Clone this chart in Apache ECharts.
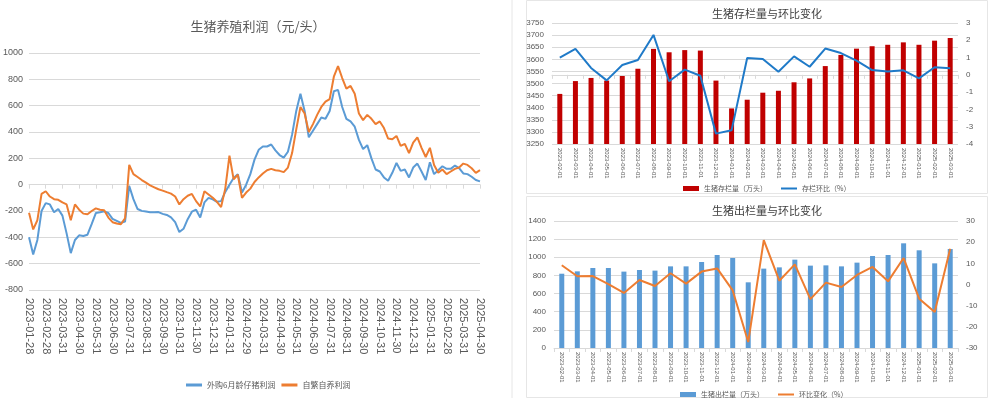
<!DOCTYPE html>
<html>
<head>
<meta charset="utf-8">
<script src="https://cdn.jsdelivr.net/npm/echarts@6/dist/echarts.min.js"></script>
<style>
  html, body { margin: 0; padding: 0; background: #fff; }
  #main { width: 990px; height: 398px; }
</style>
</head>
<body>
<div id="main"></div>
<script>
// 左图：生猪养殖利润（元/头），每月4个采样点
var monthEnds = ['2023-01-28','2023-02-28','2023-03-31','2023-04-30','2023-05-31','2023-06-30','2023-07-31',
  '2023-08-31','2023-09-30','2023-10-31','2023-11-30','2023-12-31','2024-01-31','2024-02-29','2024-03-31',
  '2024-04-30','2024-05-31','2024-06-30','2024-07-31','2024-08-31','2024-09-30','2024-10-31','2024-11-30',
  '2024-12-31','2025-01-31','2025-02-28','2025-03-31','2025-04-30'];
var perMonth = 4;

var profitPiglet = [
  -400,-530,-420,-200,-140,-150,-210,-185,-235,-370,-520,-420,
  -385,-390,-380,-300,-216,-210,-203,-215,-260,-275,-290,-280,
  -10,-110,-185,-199,-204,-210,-210,-208,-222,-230,-248,-285,
  -360,-335,-262,-205,-190,-250,-135,-100,-112,-130,-125,-55,
  0,50,80,-60,0,80,190,265,290,290,305,260,
  225,205,250,380,560,690,560,360,410,460,510,500,
  560,710,720,590,500,480,440,340,270,300,200,115,
  100,55,30,90,165,105,115,55,130,160,100,35,
  170,80,110,140,120,120,145,125,85,80,60,35,25
];
var profitSelf = [
  -213,-340,-270,-70,-50,-90,-110,-115,-135,-150,-270,-150,
  -190,-220,-225,-200,-180,-191,-195,-250,-285,-295,-300,-255,
  150,80,58,35,15,-5,-20,-35,-45,-57,-68,-90,
  -150,-110,-84,-70,-125,-165,-50,-75,-100,-130,-170,-30,
  220,40,75,-100,-60,-30,20,55,85,110,120,110,
  105,95,130,240,420,590,540,400,460,530,590,630,
  650,820,900,810,730,750,690,540,490,530,500,460,
  480,430,350,345,370,295,310,240,320,360,280,210,
  280,150,90,115,80,100,120,130,160,150,125,90,110
];

// 右图月份
var months = ['2023-02-01','2023-03-01','2023-04-01','2023-05-01','2023-06-01','2023-07-01','2023-08-01',
  '2023-09-01','2023-10-01','2023-11-01','2023-12-01','2024-01-01','2024-02-01','2024-03-01','2024-04-01',
  '2024-05-01','2024-06-01','2024-07-01','2024-08-01','2024-09-01','2024-10-01','2024-11-01','2024-12-01',
  '2025-01-01','2025-02-01','2025-03-01'];
var stock = [3457,3510,3523,3512,3531,3561,3643,3629,3638,3636,3512,3397,3433,3462,3470,3505,3521,3572,
  3618,3644,3654,3660,3670,3660,3677,3688];
var stockMoM = [1.0,1.5,0.4,-0.32,0.57,0.86,2.31,-0.37,0.3,-0.05,-3.4,-3.21,0.98,0.92,0.18,1.07,0.47,1.52,
  1.26,0.82,0.28,0.2,0.26,-0.2,0.44,0.38];
var slaughter = [819,845,882,882,842,860,853,900,900,948,1025,992,724,875,889,974,908,911,900,941,1014,
  1025,1154,1077,933,1091];
var slaughterMoM = [9.1,3.9,4.0,0.2,-4.0,2.1,-0.7,5.3,0.4,6.1,7.6,-2.8,-27.2,21.0,1.8,9.5,-6.9,0.9,-1.2,
  4.5,8.3,1.5,12.5,-6.7,-13.0,16.9];

var cats = [];
for (var m = 0; m < monthEnds.length - 1; m++) {
  for (var k = 0; k < perMonth; k++) {
    cats.push(k === 0 ? monthEnds[m] : monthEnds[m] + '#' + k);
  }
}
cats.push(monthEnds[monthEnds.length - 1]);
var onMonth = function (idx) { return idx % perMonth === 0; };
var plain = function (v) { return String(v); };

var txt = '#595959';
var gridLine = { lineStyle: { color: '#d9d9d9', width: 1 } };
var smallFont = 'Liberation Sans, Arial, sans-serif';
var cjk = 'Noto Sans CJK SC, sans-serif';
var thickLine = 'path://M0,0H16V3H0Z';
var thinLine = 'path://M0,0H16V2H0Z';

var chart = echarts.init(document.getElementById('main'));
chart.setOption({
  animation: false,
  backgroundColor: '#fff',
  graphic: [
    { type: 'line', shape: { x1: 512, y1: 0, x2: 512, y2: 398 }, style: { stroke: '#e6e6e6', lineWidth: 1 } },
    { type: 'rect', shape: { x: 526.5, y: 0.5, width: 461, height: 193 }, style: { fill: null, stroke: '#e6e6e6', lineWidth: 1 } },
    { type: 'rect', shape: { x: 526.5, y: 196.5, width: 461, height: 201 }, style: { fill: null, stroke: '#e6e6e6', lineWidth: 1 } }
  ],
  title: [
    { text: '生猪养殖利润（元/头）', left: 253, top: 15, textAlign: 'center',
      textStyle: { fontSize: 13, fontWeight: 'normal', color: txt, fontFamily: cjk } },
    { text: '生猪存栏量与环比变化', left: 762, top: 3, textAlign: 'center',
      textStyle: { fontSize: 11, fontWeight: 'normal', color: '#404040', fontFamily: cjk } },
    { text: '生猪出栏量与环比变化', left: 762, top: 200, textAlign: 'center',
      textStyle: { fontSize: 11, fontWeight: 'normal', color: '#404040', fontFamily: cjk } }
  ],
  legend: [
    { left: 181, top: 376, itemWidth: 16, itemHeight: 8, itemGap: 6,
      data: [{ name: '外购6月龄仔猪利润', icon: thickLine }, { name: '自繁自养利润', icon: thickLine }],
      textStyle: { fontSize: 8, color: txt, fontFamily: cjk } },
    { left: 678, top: 180, itemWidth: 16, itemHeight: 5, itemGap: 14,
      data: [{ name: '生猪存栏量（万头）', icon: 'rect' }, { name: '存栏环比（%）', icon: thinLine }],
      textStyle: { fontSize: 7, color: txt, fontFamily: cjk } },
    { left: 675, top: 386, itemWidth: 16, itemHeight: 5, itemGap: 14,
      data: [{ name: '生猪出栏量（万头）', icon: 'rect' }, { name: '环比变化（%）', icon: thinLine }],
      textStyle: { fontSize: 7, color: txt, fontFamily: cjk } }
  ],
  grid: [
    { left: 25, top: 53, width: 455, height: 237 },
    { left: 552, top: 23, width: 406, height: 121 },
    { left: 554, top: 221, width: 404, height: 127 }
  ],
  xAxis: [
    { gridIndex: 0, type: 'category', data: cats, boundaryGap: false,
      axisLine: { show: false, onZero: false }, axisTick: { show: false },
      axisLabel: { interval: onMonth, rotate: -90, fontSize: 11, color: txt, fontFamily: smallFont, margin: 8 } },
    { gridIndex: 0, type: 'category', data: cats, boundaryGap: false, position: 'bottom',
      axisLine: { show: true, onZero: true, lineStyle: { color: '#d9d9d9' } },
      axisTick: { show: true, interval: onMonth, length: 4, lineStyle: { color: '#d9d9d9' } },
      axisLabel: { show: false } },
    { gridIndex: 1, type: 'category', data: months,
      axisLine: { lineStyle: { color: '#d9d9d9' } },
      axisTick: { show: true, alignWithLabel: false, length: 4, lineStyle: { color: '#d9d9d9' } },
      axisLabel: { interval: 0, rotate: -90, fontSize: 6, color: txt, fontFamily: smallFont, margin: 4 } },
    { gridIndex: 2, type: 'category', data: months,
      axisLine: { lineStyle: { color: '#d9d9d9' } },
      axisTick: { show: true, alignWithLabel: false, length: 4, lineStyle: { color: '#d9d9d9' } },
      axisLabel: { interval: 0, rotate: -90, fontSize: 6, color: txt, fontFamily: smallFont, margin: 4 } }
  ],
  yAxis: [
    { gridIndex: 0, type: 'value', min: -800, max: 1000, interval: 200,
      axisLine: { show: false }, axisTick: { show: false }, splitLine: gridLine,
      axisLabel: { formatter: plain, fontSize: 9, color: txt, fontFamily: 'Liberation Sans Narrow, Liberation Sans, sans-serif', margin: 6 } },
    { gridIndex: 1, type: 'value', min: 3250, max: 3750, interval: 50,
      axisLine: { show: false }, axisTick: { show: false }, splitLine: gridLine,
      axisLabel: { formatter: plain, fontSize: 8, color: txt, fontFamily: smallFont, margin: 8 } },
    { gridIndex: 1, type: 'value', position: 'right', min: -4, max: 3, interval: 1,
      axisLine: { show: false }, axisTick: { show: false }, splitLine: { show: false },
      axisLabel: { formatter: plain, fontSize: 8, color: txt, fontFamily: smallFont, margin: 8 } },
    { gridIndex: 2, type: 'value', min: 0, max: 1400, interval: 200,
      axisLine: { show: false }, axisTick: { show: false }, splitLine: gridLine,
      axisLabel: { formatter: plain, fontSize: 8, color: txt, fontFamily: smallFont, margin: 8 } },
    { gridIndex: 2, type: 'value', position: 'right', min: -30, max: 30, interval: 10,
      axisLine: { show: false }, axisTick: { show: false }, splitLine: { show: false },
      axisLabel: { formatter: plain, fontSize: 8, color: txt, fontFamily: smallFont, margin: 8 } }
  ],
  series: [
    { name: '外购6月龄仔猪利润', type: 'line', xAxisIndex: 0, yAxisIndex: 0, data: profitPiglet,
      symbol: 'none', lineStyle: { width: 2, color: '#5B9BD5' }, itemStyle: { color: '#5B9BD5' } },
    { name: '自繁自养利润', type: 'line', xAxisIndex: 0, yAxisIndex: 0, data: profitSelf,
      symbol: 'none', lineStyle: { width: 2, color: '#ED7D31' }, itemStyle: { color: '#ED7D31' } },
    { name: '生猪存栏量（万头）', type: 'bar', xAxisIndex: 2, yAxisIndex: 1, data: stock,
      barWidth: 5, itemStyle: { color: '#C00000' } },
    { name: '存栏环比（%）', type: 'line', xAxisIndex: 2, yAxisIndex: 2, data: stockMoM,
      symbol: 'none', lineStyle: { width: 2, color: '#1F7AC8' }, itemStyle: { color: '#1F7AC8' } },
    { name: '生猪出栏量（万头）', type: 'bar', xAxisIndex: 3, yAxisIndex: 3, data: slaughter,
      barWidth: 5, itemStyle: { color: '#5B9BD5' } },
    { name: '环比变化（%）', type: 'line', xAxisIndex: 3, yAxisIndex: 4, data: slaughterMoM,
      symbol: 'none', lineStyle: { width: 2, color: '#ED7D31' }, itemStyle: { color: '#ED7D31' } }
  ]
});
</script>
</body>
</html>
